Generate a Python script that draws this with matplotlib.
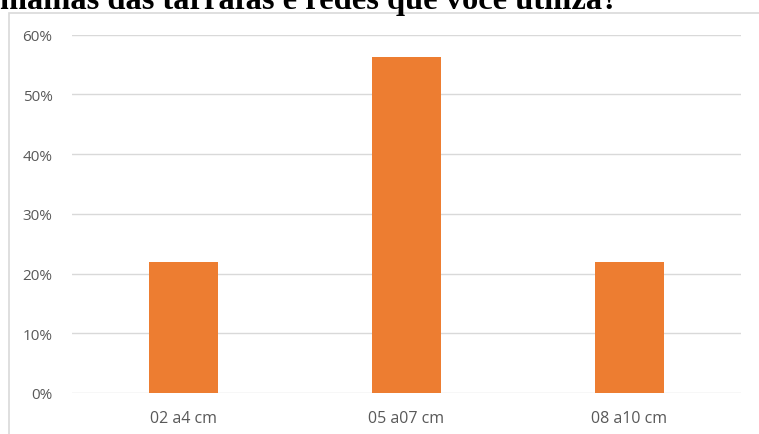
"""Recreate the mesh-size bar chart (percent of fishermen by net mesh size)."""

import matplotlib
matplotlib.use("Agg")
import matplotlib.pyplot as plt
from matplotlib.patches import Rectangle
from matplotlib.ticker import FuncFormatter

# Data
categories = ["02 a4 cm", "05 a07 cm", "08 a10 cm"]
percentages = [21.9, 56.2, 21.9]
y_ticks = [0, 10, 20, 30, 40, 50, 60]

W, H = 759, 435
fig = plt.figure(figsize=(W / 100, H / 100), dpi=100)

# Cropped question title above the chart frame
fig.text(0, 1 - 9 / H, "malhas das tarrafas e redes que você utiliza?",
         family="Liberation Serif", fontweight="bold", fontsize=23.4,
         ha="left", va="baseline", color="black")

# Chart frame (light grey border)
fig.patches.append(Rectangle((8.5 / W, -0.1), 1.0, 1 - 13.5 / H + 0.1,
                             transform=fig.transFigure, fill=False,
                             edgecolor="#d9d9d9", linewidth=1.2))

ax = fig.add_axes([72 / W, 1 - 394 / H, (741 - 72) / W, (394 - 35.7) / H])
ax.bar(range(len(categories)), percentages, width=0.31, color="#ed7d31", zorder=3)

ax.set_xlim(-0.5, len(categories) - 0.5)
ax.set_ylim(0, 60)
ax.set_yticks(y_ticks)
ax.yaxis.set_major_formatter(FuncFormatter(lambda v, _: f"{v:.0f}%"))
ax.set_xticks(range(len(categories)))
ax.set_xticklabels(categories)

ax.grid(True, axis="y", color="#d9d9d9", linewidth=1.0, zorder=0)
for side in ["top", "right", "left", "bottom"]:
    ax.spines[side].set_visible(False)
ax.tick_params(axis="both", length=0, labelsize=11, labelcolor="#595959")
ax.tick_params(axis="y", pad=14)
ax.tick_params(axis="x", pad=12, labelsize=11.5)
for lbl in ax.get_xticklabels() + ax.get_yticklabels():
    lbl.set_family("Open Sans")

fig.savefig("out.png", dpi=100)
